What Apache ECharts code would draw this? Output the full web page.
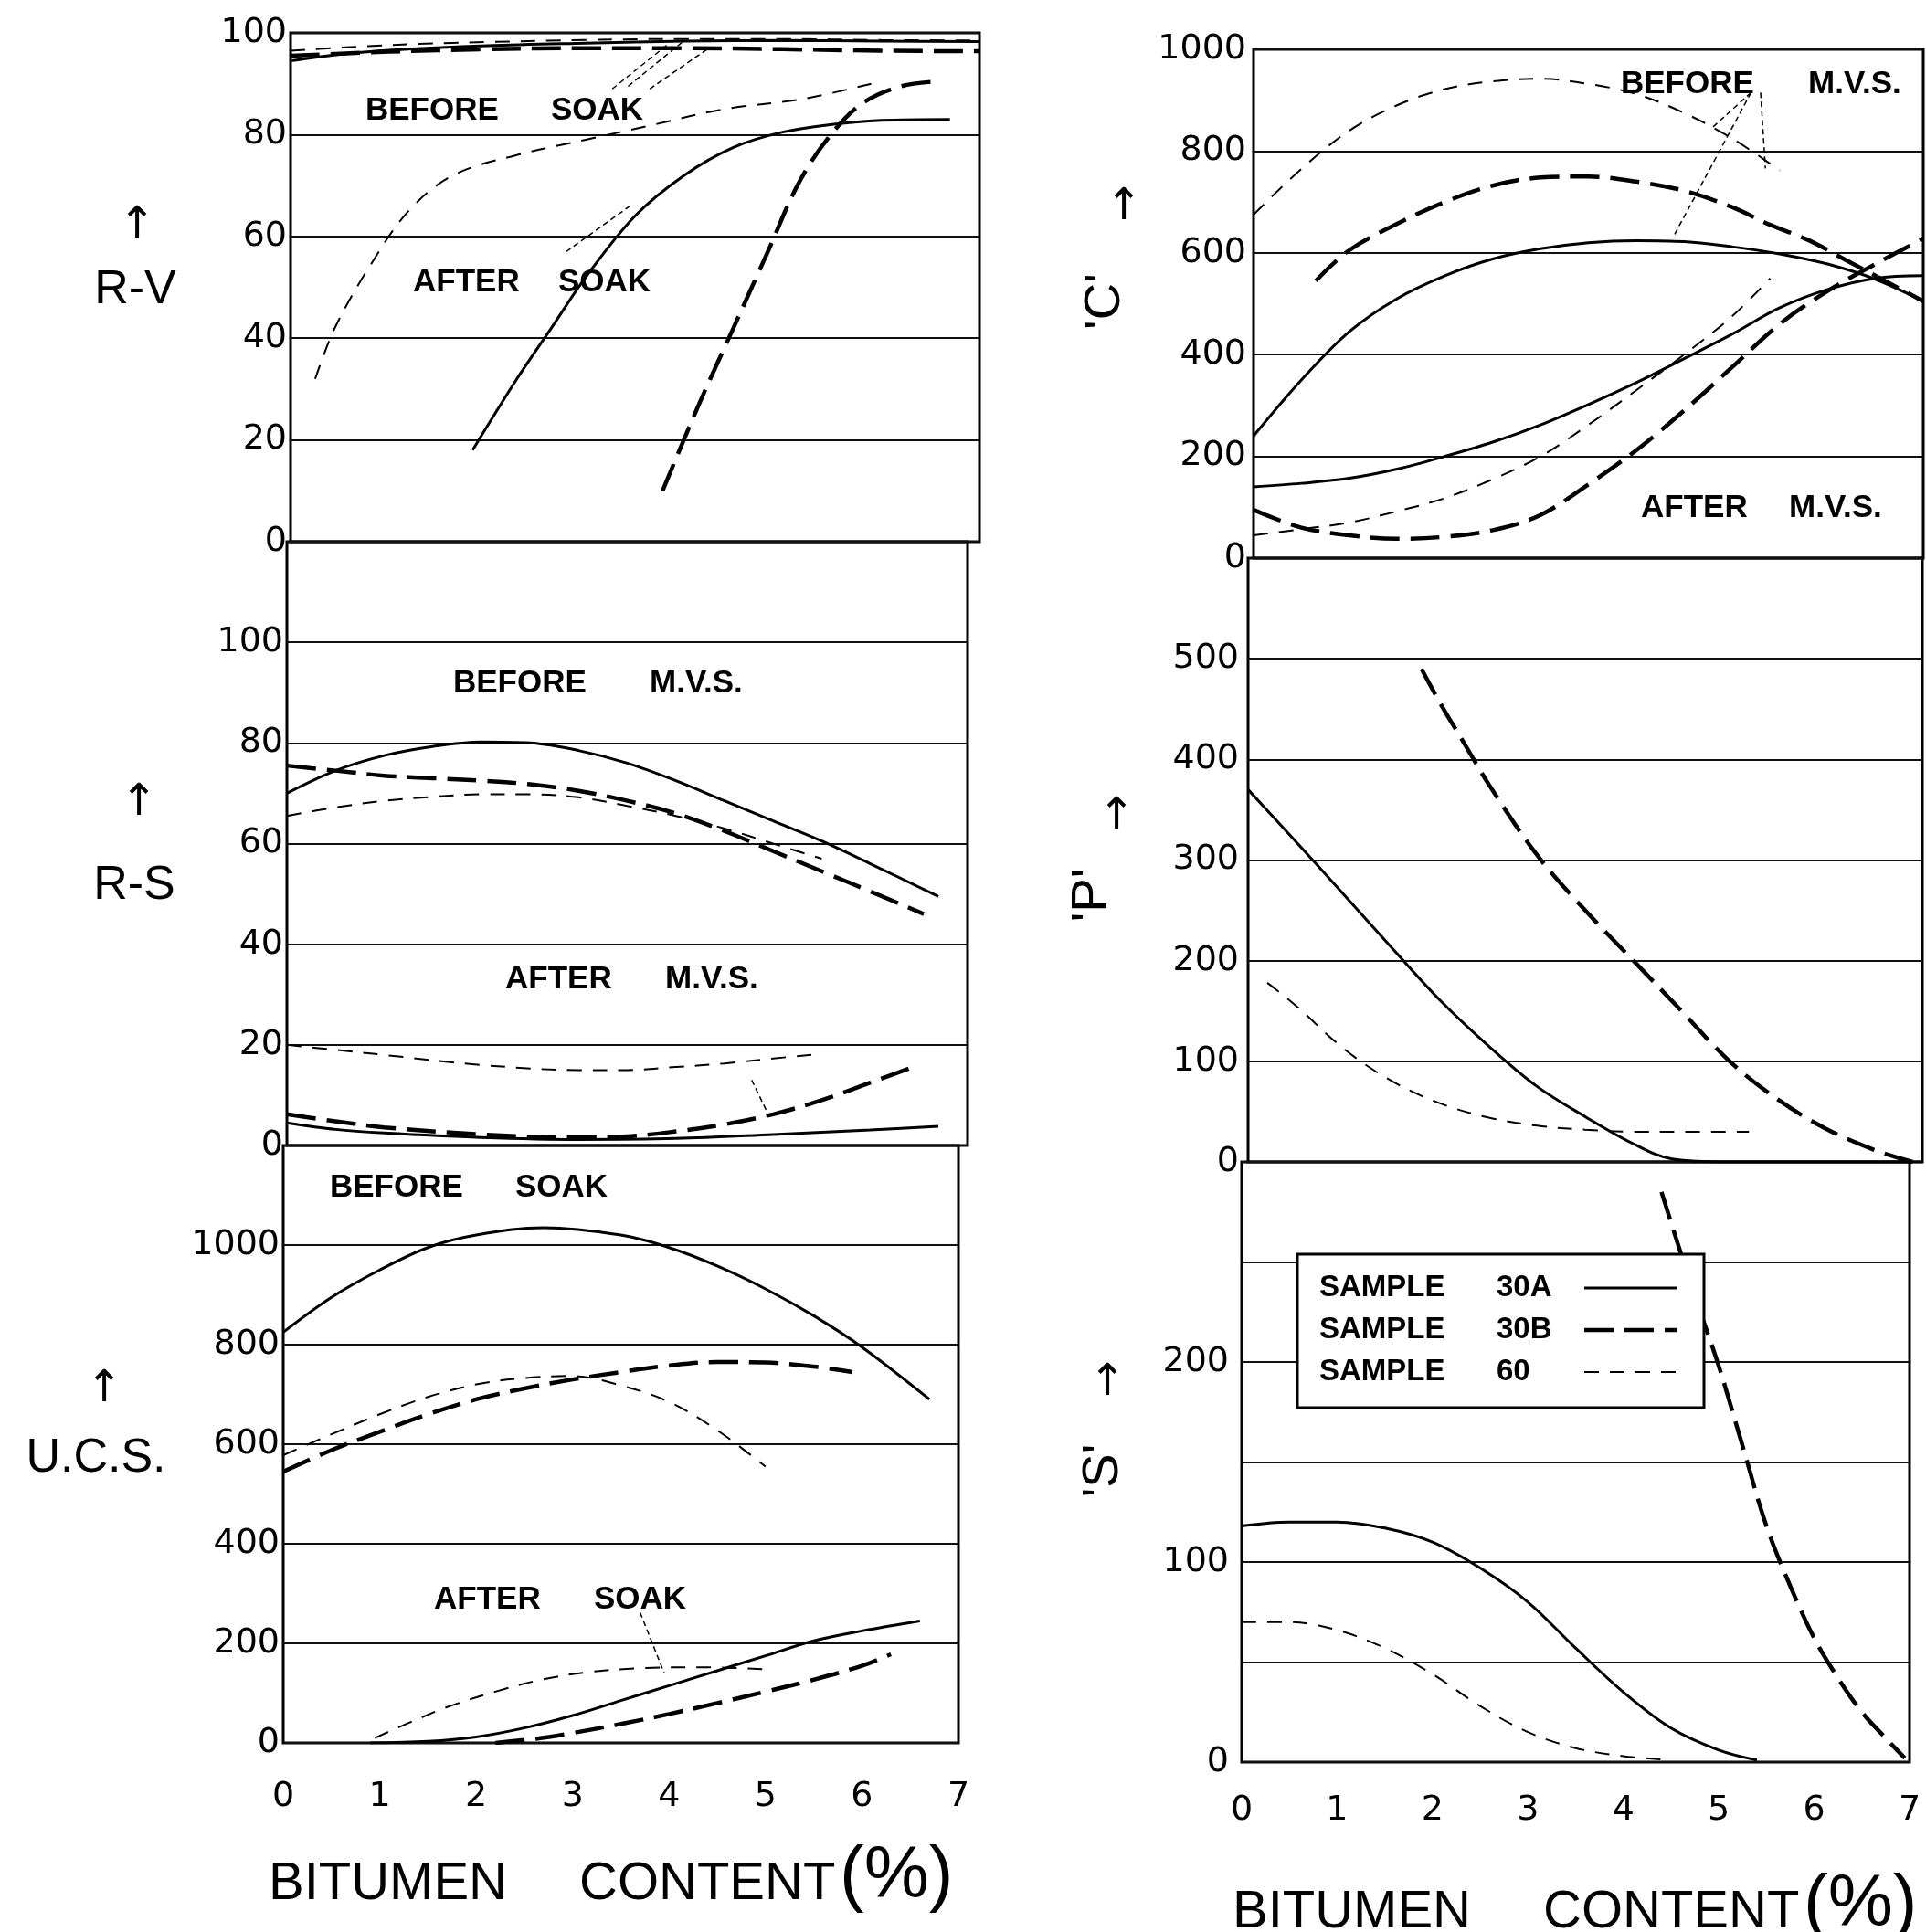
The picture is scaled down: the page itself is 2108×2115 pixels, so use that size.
<!DOCTYPE html>
<html>
<head>
<meta charset="utf-8">
<script src="https://cdn.jsdelivr.net/npm/echarts@6/dist/echarts.min.js"></script>
<style>
  html, body { margin: 0; background: #fff; }
  #chart { width: 2108px; height: 2115px; }
</style>
</head>
<body>
<div id="chart"></div>
<script>
// ---- data: [bitumen %, value] ----
const xTicks = [0, 1, 2, 3, 4, 5, 6, 7];

// R-V
const rvTicks = [0, 20, 40, 60, 80, 100];
const rvBeforeA = [[0, 94.5], [0.5, 95.8], [1, 96.6], [2, 97.5], [3, 98], [4, 98.4], [5, 98.5], [6, 98.4], [7, 98.3]];
const rvBeforeB = [[0, 95.5], [1, 96.3], [2, 96.8], [3, 97], [4, 97], [5, 96.8], [6, 96.5], [7, 96.4]];
const rvBefore60 = [[0, 96.5], [1, 97.6], [2, 98.2], [3, 98.6], [4, 98.8], [5, 98.8], [6, 98.6], [7, 98.5]];
const rvAfterA = [[1.85, 18], [2.3, 32], [2.65, 42], [3, 52], [3.5, 64], [4, 72], [4.5, 77.5], [5, 80.5], [5.5, 82], [6, 82.8], [6.7, 83]];
const rvAfterB = [[3.78, 10], [4.15, 27], [4.5, 42], [4.85, 57], [5.15, 70], [5.45, 79], [5.8, 86], [6.2, 89.5], [6.6, 90.5]];
const rvAfter60 = [[0.25, 32], [0.45, 42], [0.8, 54], [1.2, 65], [1.65, 72], [2.3, 76], [3, 79], [3.7, 82], [4.4, 85], [5.2, 87], [5.9, 90]];

// R-S
const rsTicks = [0, 20, 40, 60, 80, 100];
const rsBeforeA = [[0, 70], [0.5, 74.5], [1, 77.5], [1.5, 79.3], [2, 80.2], [2.5, 80], [3, 78.5], [3.5, 76], [4, 72.5], [4.5, 68.5], [5, 64.5], [5.5, 60.5], [6, 56], [6.7, 49.5]];
const rsBeforeB = [[0, 75.5], [0.5, 74.5], [1, 73.5], [1.5, 73], [2, 72.5], [2.5, 71.8], [3, 70.5], [3.5, 68.5], [4, 66], [4.5, 62.5], [5, 58.5], [5.5, 54.5], [6, 50.5], [6.55, 46]];
const rsBefore60 = [[0, 65.5], [0.5, 67.2], [1, 68.5], [1.5, 69.3], [2, 69.8], [2.5, 69.8], [3, 69.2], [3.5, 67.5], [4, 65.5], [4.5, 63], [5, 60], [5.5, 57]];
const rsAfterA = [[0, 4.5], [0.5, 3.2], [1, 2.5], [2, 1.6], [3, 1.2], [4, 1.4], [5, 2.2], [6, 3.1], [6.7, 3.8]];
const rsAfterB = [[0, 6.2], [0.5, 4.8], [1, 3.6], [2, 2.2], [3, 1.6], [3.5, 1.8], [4, 2.8], [4.5, 4.2], [5, 6.2], [5.5, 9], [6, 12.5], [6.5, 16]];
const rsAfter60 = [[0, 20], [0.5, 19], [1, 18], [2, 16], [3, 15], [3.5, 15], [4, 15.6], [4.5, 16.3], [5, 17.3], [5.5, 18.2]];

// U.C.S.
const ucsTicks = [0, 200, 400, 600, 800, 1000];
const ucsBeforeA = [[0, 825], [0.5, 895], [1, 950], [1.5, 995], [2, 1020], [2.7, 1035], [3.5, 1020], [4, 995], [4.5, 958], [5, 912], [5.5, 858], [6, 795], [6.7, 690]];
const ucsBeforeB = [[0, 545], [0.5, 588], [1, 625], [1.5, 660], [2, 690], [2.5, 712], [3, 730], [3.5, 745], [4, 758], [4.5, 765], [5, 764], [5.5, 756], [5.9, 745]];
const ucsBefore60 = [[0, 578], [0.5, 620], [1, 660], [1.5, 695], [2, 720], [2.5, 733], [3, 737], [3.5, 718], [4, 685], [4.5, 628], [5, 555]];
const ucsAfterA = [[0.9, 0], [1.5, 3], [2, 12], [2.5, 30], [3, 55], [3.5, 85], [4, 115], [4.5, 145], [5, 175], [5.5, 205], [6, 225], [6.6, 245]];
const ucsAfterB = [[2.2, 0], [2.6, 8], [3, 20], [3.5, 38], [4, 58], [4.5, 80], [5, 103], [5.5, 127], [6, 155], [6.3, 178]];
const ucsAfter60 = [[0.95, 10], [1.3, 40], [1.7, 72], [2.2, 103], [2.7, 128], [3.2, 143], [3.7, 150], [4.3, 152], [5, 148]];

// 'C'
const cTicks = [0, 200, 400, 600, 800, 1000];
const cBeforeA = [[0, 240], [0.5, 350], [1, 445], [1.5, 510], [2, 555], [2.5, 588], [3, 608], [3.5, 620], [4, 624], [4.5, 622], [5, 612], [5.5, 598], [6, 578], [6.5, 548], [7, 505]];
const cBeforeB = [[0.65, 545], [1, 605], [1.5, 657], [2, 700], [2.5, 732], [3, 748], [3.5, 750], [4, 740], [4.5, 722], [5, 690], [5.4, 655], [5.8, 625], [6.2, 585], [6.6, 545], [7, 505]];
const cBefore60 = [[0, 675], [0.5, 765], [1, 840], [1.5, 890], [2, 922], [2.5, 937], [3, 942], [3.5, 932], [4, 912], [4.5, 875], [5, 825], [5.5, 762]];
const cAfterA = [[0, 140], [0.5, 147], [1, 157], [1.5, 175], [2, 200], [2.5, 228], [3, 262], [3.5, 302], [4, 345], [4.5, 392], [5, 440], [5.5, 492], [6, 528], [6.5, 550], [7, 555]];
const cAfterB = [[0, 95], [0.5, 60], [1, 45], [1.5, 38], [2, 42], [2.5, 55], [3, 85], [3.5, 145], [4, 212], [4.5, 290], [5, 375], [5.5, 460], [6, 525], [6.5, 578], [7, 628]];
const cAfter60 = [[0, 45], [0.5, 57], [1, 70], [1.5, 92], [2, 118], [2.5, 155], [3, 200], [3.5, 262], [4, 330], [4.5, 400], [5, 475], [5.4, 550]];

// 'P'
const pTicks = [0, 100, 200, 300, 400, 500];
const pA = [[0, 370], [0.5, 318], [1, 265], [1.5, 212], [2, 160], [2.5, 115], [3, 75], [3.5, 45], [4, 18], [4.4, 3], [5, 0], [7, 0]];
const pB = [[1.8, 490], [2, 455], [2.25, 415], [2.5, 375], [3, 305], [3.5, 250], [4, 200], [4.5, 150], [5, 100], [5.5, 62], [6, 33], [6.5, 12], [6.9, 0]];
const p60 = [[0.2, 178], [0.5, 155], [1, 112], [1.5, 80], [2, 58], [2.5, 44], [3, 36], [3.5, 32], [4, 30], [4.5, 30], [5.2, 30]];

// 'S'
const sTicks = [0, 100, 200];
const sA = [[0, 118], [0.5, 120], [1, 120], [1.5, 117], [2, 110], [2.5, 97], [3, 80], [3.5, 57], [4, 35], [4.5, 17], [5, 6], [5.4, 1]];
const sB = [[4.4, 285], [4.7, 240], [5, 198], [5.25, 158], [5.5, 118], [5.75, 88], [6, 62], [6.25, 42], [6.5, 25], [6.75, 12], [6.95, 2]];
const s60 = [[0, 70], [0.5, 70], [1, 66], [1.5, 57], [2, 44], [2.5, 28], [3, 15], [3.5, 7], [4, 3], [4.5, 1]];

// leader lines from the labels to the curves: [panel, x1, y1, x2, y2]
const leaders = [
  [0, 3.27, 89, 3.85, 98], [0, 3.43, 89.5, 4.0, 98.5], [0, 3.65, 89, 4.25, 97],
  [0, 2.8, 57, 3.45, 66],
  [1, 4.78, 13, 4.93, 7],
  [2, 3.7, 262, 3.95, 140],
  [3, 5.2, 915, 4.8, 847], [3, 5.2, 915, 4.4, 636], [3, 5.3, 915, 5.35, 766]
];

const NAME_A = 'SAMPLE 30A';
const NAME_B = 'SAMPLE 30B';
const NAME_60 = 'SAMPLE 60';

// ---- layout ----
const grids = [
  { left: 318, top: 36, width: 754, height: 557 },   // R-V
  { left: 314, top: 593, width: 745, height: 661 },  // R-S
  { left: 310, top: 1254, width: 739, height: 654 }, // U.C.S.
  { left: 1372, top: 54, width: 733, height: 557 },  // 'C'
  { left: 1366, top: 611, width: 738, height: 661 }, // 'P'
  { left: 1359, top: 1272, width: 731, height: 657 } // 'S'
];
const yCfg = [
  { max: 100, step: 20, ticks: rvTicks, margin: 4 },
  { max: 120, step: 20, ticks: rsTicks, margin: 4 },
  { max: 1200, step: 200, ticks: ucsTicks, margin: 4 },
  { max: 1000, step: 200, ticks: cTicks, margin: 8 },
  { max: 600, step: 100, ticks: pTicks, margin: 10 },
  { max: 300, step: 50, ticks: sTicks, margin: 14 }
];

const tickFont = { fontFamily: 'DejaVu Sans', fontSize: 38, color: '#000' };

const styles = {
  A: { name: NAME_A, lineStyle: { type: 'solid', width: 3 } },
  B: { name: NAME_B, lineStyle: { type: [32, 12], width: 4.5 } },
  S60: { name: NAME_60, lineStyle: { type: [16, 12], width: 2 } }
};

function curve(gi, data, kind) {
  const s = styles[kind];
  return {
    type: 'line', name: s.name, xAxisIndex: gi, yAxisIndex: gi,
    data, smooth: 0.35, symbol: 'none', silent: true, z: 3,
    lineStyle: Object.assign({ color: '#000' }, s.lineStyle)
  };
}

const series = [
  curve(0, rvBeforeA, 'A'), curve(0, rvBeforeB, 'B'), curve(0, rvBefore60, 'S60'),
  curve(0, rvAfterA, 'A'), curve(0, rvAfterB, 'B'), curve(0, rvAfter60, 'S60'),
  curve(1, rsBeforeA, 'A'), curve(1, rsBeforeB, 'B'), curve(1, rsBefore60, 'S60'),
  curve(1, rsAfterA, 'A'), curve(1, rsAfterB, 'B'), curve(1, rsAfter60, 'S60'),
  curve(2, ucsBeforeA, 'A'), curve(2, ucsBeforeB, 'B'), curve(2, ucsBefore60, 'S60'),
  curve(2, ucsAfterA, 'A'), curve(2, ucsAfterB, 'B'), curve(2, ucsAfter60, 'S60'),
  curve(3, cBeforeA, 'A'), curve(3, cBeforeB, 'B'), curve(3, cBefore60, 'S60'),
  curve(3, cAfterA, 'A'), curve(3, cAfterB, 'B'), curve(3, cAfter60, 'S60'),
  curve(4, pA, 'A'), curve(4, pB, 'B'), curve(4, p60, 'S60'),
  curve(5, sA, 'A'), curve(5, sB, 'B'), curve(5, s60, 'S60')
];

// annotation words: [text, left x, centre y]
const notes = [
  ['BEFORE', 400, 121], ['SOAK', 603, 121],
  ['AFTER', 452, 309], ['SOAK', 611, 309],
  ['BEFORE', 496, 748], ['M.V.S.', 711, 748],
  ['AFTER', 553, 1072], ['M.V.S.', 728, 1072],
  ['BEFORE', 361, 1300], ['SOAK', 564, 1300],
  ['AFTER', 475, 1751], ['SOAK', 650, 1751],
  ['BEFORE', 1774, 92], ['M.V.S.', 1979, 92],
  ['AFTER', 1796, 556], ['M.V.S.', 1958, 556]
];

const graphic = [];
notes.forEach(([t, x, y]) => graphic.push({
  type: 'text', x, y, z: 50,
  style: { text: t, fill: '#000', font: 'bold 35px "Liberation Sans"', align: 'left', verticalAlign: 'middle' }
}));

function txt(t, x, y, size, rot) {
  return {
    type: 'text', x, y, rotation: rot || 0, z: 50,
    style: { text: t, fill: '#000', font: size + 'px "Liberation Sans"', align: 'center', verticalAlign: 'middle' }
  };
}
function arrow(x, y) {
  return {
    type: 'text', x, y, z: 50,
    style: { text: '↑', fill: '#000', font: '48px "DejaVu Sans"', align: 'center', verticalAlign: 'middle' }
  };
}

// y-axis titles
graphic.push(arrow(150, 248), txt('R-V', 148, 318, 52));
graphic.push(arrow(152, 880), txt('R-S', 147, 970, 52));
graphic.push(arrow(114, 1522), txt('U.C.S.', 105, 1597, 52));
graphic.push(arrow(1230, 228), txt("'C'", 1210, 330, 56, Math.PI / 2));
graphic.push(arrow(1222, 895), txt("'P'", 1196, 980, 56, Math.PI / 2));
graphic.push(arrow(1212, 1515), txt("'S'", 1208, 1610, 56, Math.PI / 2));

// x-axis titles
function xTitle(x0, y) {
  graphic.push({ type: 'text', x: x0, y, z: 50, style: { text: 'BITUMEN', fill: '#000', font: '58px "Liberation Sans"', align: 'left', verticalAlign: 'middle' } });
  graphic.push({ type: 'text', x: x0 + 340, y, z: 50, style: { text: 'CONTENT', fill: '#000', font: '58px "Liberation Sans"', align: 'left', verticalAlign: 'middle' } });
  graphic.push({ type: 'text', x: x0 + 625, y: y - 8, z: 50, style: { text: '(%)', fill: '#000', font: '80px "Liberation Sans"', align: 'left', verticalAlign: 'middle' } });
}
xTitle(294, 2063);
xTitle(1349, 2094);

// legend box (drawn by hand to match the original key)
const keyRows = [
  [NAME_A, 1410, styles.A.lineStyle],
  [NAME_B, 1456, styles.B.lineStyle],
  [NAME_60, 1502, styles.S60.lineStyle]
];
graphic.push({ type: 'rect', shape: { x: 1420, y: 1373, width: 445, height: 168 }, z: 40,
  style: { fill: '#fff', stroke: '#000', lineWidth: 3 } });
keyRows.forEach(([name, y, ls]) => {
  const parts = name.split(' ');
  graphic.push({ type: 'text', x: 1444, y, z: 50, style: { text: parts[0], fill: '#000', font: 'bold 33px "Liberation Sans"', align: 'left', verticalAlign: 'middle' } });
  graphic.push({ type: 'text', x: 1638, y, z: 50, style: { text: parts[1], fill: '#000', font: 'bold 33px "Liberation Sans"', align: 'left', verticalAlign: 'middle' } });
  graphic.push({ type: 'line', z: 50, shape: { x1: 1734, y1: y, x2: 1835, y2: y },
    style: { stroke: '#000', lineWidth: ls.width, lineDash: ls.type === 'solid' ? null : ls.type } });
});

const option = {
  backgroundColor: '#fff',
  animation: false,
  grid: grids.map(g => Object.assign({ show: true, borderColor: '#000', borderWidth: 3, containLabel: false }, g)),
  xAxis: grids.map((g, i) => ({
    type: 'value', gridIndex: i, min: 0, max: 7, interval: 1,
    axisLine: { show: false }, axisTick: { show: false }, splitLine: { show: false },
    axisLabel: Object.assign({ show: i === 2 || i === 5, margin: i === 2 ? 40 : 34,
      formatter: v => xTicks.includes(v) ? String(v) : '' }, tickFont)
  })),
  yAxis: yCfg.map((c, i) => ({
    type: 'value', gridIndex: i, min: 0, max: c.max, interval: c.step,
    axisLine: { show: false }, axisTick: { show: false },
    splitLine: { show: true, lineStyle: { color: '#111', width: 2 } },
    axisLabel: Object.assign({ margin: c.margin, formatter: v => c.ticks.includes(v) ? String(v) : '' }, tickFont)
  })),
  graphic,
  series
};

const chart = echarts.init(document.getElementById('chart'));
chart.setOption(option);

// leader lines placed through the panels' own scales
const leaderGraphics = leaders.map(([gi, x1, y1, x2, y2]) => {
  const p1 = chart.convertToPixel({ gridIndex: gi }, [x1, y1]);
  const p2 = chart.convertToPixel({ gridIndex: gi }, [x2, y2]);
  return { type: 'line', z: 45, shape: { x1: p1[0], y1: p1[1], x2: p2[0], y2: p2[1] },
    style: { stroke: '#000', lineWidth: 1.5, lineDash: [6, 4] } };
});
chart.setOption({ graphic: graphic.concat(leaderGraphics) });
</script>
</body>
</html>
